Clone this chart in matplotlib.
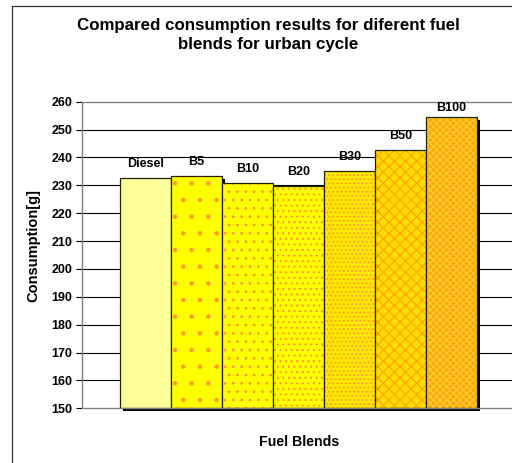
import matplotlib
matplotlib.use("Agg")
import matplotlib.pyplot as plt
import matplotlib.transforms as mtransforms
from matplotlib.patches import Rectangle

plt.rcParams['font.family'] = ['Liberation Sans', 'DejaVu Sans']
plt.rcParams['font.weight'] = 'bold'
plt.rcParams['hatch.linewidth'] = 0.8

blends = ["Diesel", "B5", "B10", "B20", "B30", "B50", "B100"]
consumption = [232.5, 233.3, 230.9, 229.8, 235.3, 242.6, 254.4]
yticks = list(range(150, 261, 10))

# fill, hatch, hatch colour per bar
faces = ["#FFFF99", "#FFFF00", "#FFFF00", "#FFFF00", "#FFE800", "#FFDD00", "#FFA800"]
hatches = [None, ".", "..", "...", "....", "xxx", "xxxxx"]
hatch_cols = ["#FFFF99", "#FF9933", "#FF9933", "#FF9933", "#FF9933", "#FFA000", "#FFD040"]

fig = plt.figure(figsize=(5.12, 4.63), dpi=100)
W, H = 512, 463

# outer chart frame (cropped at right/bottom)
fig.patches.append(Rectangle((12 / W, -0.1), 1.2, (463 - 6) / H + 0.1,
                             transform=fig.transFigure, fill=False,
                             edgecolor="#333333", linewidth=0.9))

ax = fig.add_axes([82 / W, (H - 408.3) / H, (W - 82) / W, (408.3 - 101.7) / H])

x = list(range(len(blends)))
shadow_tr = mtransforms.offset_copy(ax.transData, fig=fig, x=3, y=-3, units="dots")
for i in x:
    ax.bar(i, consumption[i] - 150, bottom=150, width=1.0, color="black",
           linewidth=0, zorder=3, transform=shadow_tr, clip_on=False)
    ax.bar(i, consumption[i] - 150, bottom=150, width=1.0, color=faces[i],
           hatch=hatches[i], edgecolor=hatch_cols[i], linewidth=0, zorder=3)
    ax.bar(i, consumption[i] - 150, bottom=150, width=1.0, fill=False,
           edgecolor="#222200", linewidth=0.9, zorder=3)
    ax.text(i, min(consumption[i] + 5.0, 257.6), blends[i], ha="center", va="center",
            fontsize=9, fontweight="bold", zorder=5)

ax.set_ylim(150, 260)
ax.set_xlim(-1.245, 7.19)
ax.set_yticks(yticks)
ax.set_yticklabels([str(t) for t in yticks], fontsize=9, fontweight="bold")
ax.set_xticks([])
ax.tick_params(axis="y", direction="out", length=4, width=0.8, color="black", pad=3)
for t in yticks[1:-1]:
    ax.axhline(t, color="black", linewidth=0.8, zorder=1)
for s in ["left", "top", "bottom"]:
    ax.spines[s].set_color("#808080")
    ax.spines[s].set_linewidth(1.0)
    ax.spines[s].set_zorder(4)
ax.spines["right"].set_visible(False)

fig.text(268 / W, 1 - 35 / H, "Compared consumption results for diferent fuel\nblends for urban cycle",
         ha="center", va="center", fontsize=12.2, fontweight="bold", linespacing=1.4)
fig.text(33 / W, 1 - 245 / H, "Consumption[g]", rotation=90, ha="center", va="center",
         fontsize=10.5, fontweight="bold")
fig.text(299 / W, 1 - 442 / H, "Fuel Blends", ha="center", va="center",
         fontsize=10.2, fontweight="bold")

fig.savefig("out.png", dpi=100)
